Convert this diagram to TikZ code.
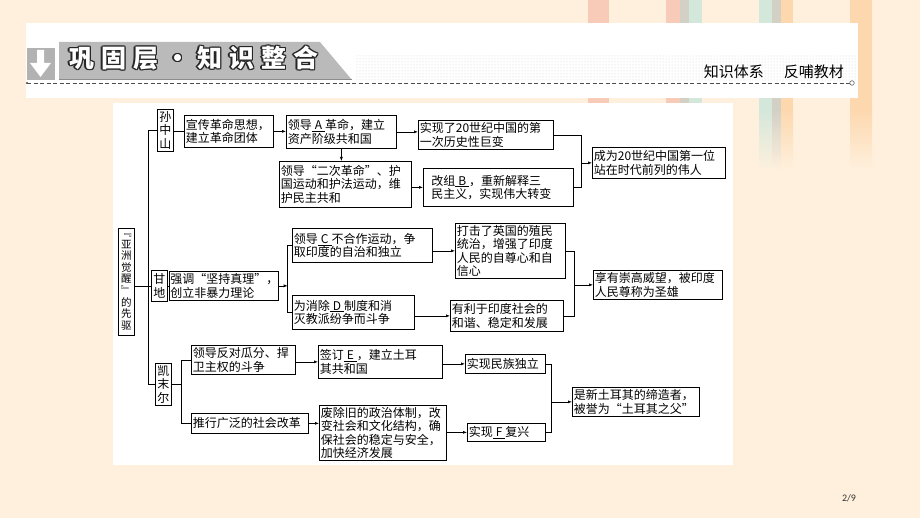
\documentclass[tikz,border=0pt]{standalone}
\usepackage{fontspec}
\usepackage{xcolor}
\usetikzlibrary{arrows.meta, positioning, patterns}
\newfontfamily\cjk{Noto Sans CJK SC}
\newfontfamily\numfont{Carlito}
\definecolor{cream}{HTML}{FEF0DD}
\definecolor{salmon}{HTML}{F8CBB8}
\definecolor{stone}{HTML}{D3D0C6}
\definecolor{mint}{HTML}{D4E7DB}
\definecolor{apricot}{HTML}{FDD8AF}

\begin{document}
\begin{tikzpicture}[x=1pt, y=-1pt,
    box/.style={draw, line width=0.7pt, fill=white, anchor=north west, align=left,
        inner xsep=1.5pt, inner ysep=1pt, font=\cjk\fontsize{12}{13.5}\selectfont},
    vbox/.style={box, align=center, text width=12pt, inner xsep=2pt},
    arr/.style={line width=0.6pt, -{Latex[length=4pt, width=3pt]}},
    link/.style={line width=0.6pt},
    stripe/.style={fill=#1},
    titletxt/.style={anchor=west, inner sep=0pt, font=\cjk\bfseries\fontsize{25}{25}\selectfont}]

    \useasboundingbox (0,0) rectangle (920,518);
    \fill[cream] (0,0) rectangle (920,518);

    % stripes at the top
    \foreach \xa/\xb/\c in {588/609/salmon, 666/680/salmon, 680/689/stone, 689/702/mint,
                            759/772/mint, 772/781/stone, 781/793/apricot, 850/872/apricot}{
        \fill[\c] (\xa,0) rectangle (\xb,110);
        \shade[top color=\c, bottom color=cream] (\xa,110) rectangle (\xb,170);
    }

    % header
    \fill[white] (26,23) rectangle (858,98);
    \fill[pattern=dots, pattern color=black!18] (355,55) rectangle (856,82);
    \fill[black!30] (27,48) rectangle (55,80);
    \fill[white] (37,50) -- (44,50) -- (44,63) -- (51,63) -- (40.5,77) -- (30,63) -- (37,63) -- cycle;
    \fill[black!27] (59,42) -- (320,42) -- (352,80) -- (59,80) -- cycle;
    \draw[black!45, line width=1pt] (59,80) -- (352,80);
    \foreach \a in {0,45,...,315}
        \node[titletxt, text=black!85] at ([shift={(\a:1.3)}]69,58)
            {巩\hspace{7pt}固\hspace{7pt}层\hspace{7pt}・\hspace{7pt}知\hspace{7pt}识\hspace{7pt}整\hspace{7pt}合};
    \node[titletxt, text=white] (title) at (69,58)
        {巩\hspace{7pt}固\hspace{7pt}层\hspace{7pt}・\hspace{7pt}知\hspace{7pt}识\hspace{7pt}整\hspace{7pt}合};
    \node[anchor=east, inner sep=0pt, font=\cjk\fontsize{15}{15}\selectfont] (sub) at (844,72)
        {知识体系\hspace{20pt}反哺教材};
    \coordinate (hl) at (27,83);
    \coordinate (hr) at (849.5,83);
    \draw[black!70, line width=0.6pt, dash pattern=on 4pt off 2.5pt] (hl) -- (hr);
    \fill[black!70] (hl) circle (1.2);
    \draw[black!70, fill=white, line width=0.5pt] (852,83) circle (2.3);

    % diagram
    \fill[white] (113,103) rectangle (733,465);

    \node[vbox, minimum height=42pt] (sun) at (157,109) {孙\\中\\山};
    \node[box, text width=86pt, minimum height=32pt] (xc) at (184,115) {宣传革命思想，\\建立革命团体};
    \node[box, text width=107pt, minimum height=33pt] (lda) at (286,115)
        {领导\underline{\hspace{3pt}A\hspace{3pt}}革命，建立\\资产阶级共和国};
    \node[box, text width=132pt, minimum height=29pt] (sx20) at (418,120) {实现了20世纪中国的第\\一次历史性巨变};
    \node[box, text width=129pt, minimum height=46pt] (ec) at (279,161)
        {领导“二次革命”、护\\国运动和护法运动，维\\护民主共和};
    \node[box, text width=134pt, inner xsep=8pt, minimum height=38pt] (gz) at (423,168)
        {改组\underline{\hspace{3pt}B\hspace{3pt}}，重新解释三\\民主义，实现伟大转变};
    \node[box, text width=130pt, minimum height=31pt] (cw) at (592,147) {成为20世纪中国第一位\\站在时代前列的伟人};

    \node[vbox, minimum height=107pt, font=\cjk\fontsize{10.5}{11.6}\selectfont] (yz) at (118,228)
        {﹃\\亚\\洲\\觉\\醒\\﹄\\的\\先\\驱};
    \node[vbox, minimum height=31pt] (gd) at (151,270) {甘\\地};
    \node[box, text width=107pt, inner xsep=1pt, minimum height=29pt] (qd) at (169,271)
        {强调“坚持真理”，\\创立非暴力理论};
    \node[box, text width=137pt, minimum height=34pt] (lc) at (292,228)
        {领导\underline{\hspace{3pt}C\hspace{3pt}}不合作运动，争\\取印度的自治和独立};
    \node[box, text width=119pt, minimum height=34pt] (dz) at (292,295)
        {为消除\underline{\hspace{3pt}D\hspace{3pt}}制度和消\\灭教派纷争而斗争};
    \node[box, text width=107pt, minimum height=55pt] (dj) at (455,223)
        {打击了英国的殖民\\统治，增强了印度\\人民的自尊心和自\\信心};
    \node[box, text width=110pt, minimum height=31pt] (yl) at (450,300) {有利于印度社会的\\和谐、稳定和发展};
    \node[box, text width=126pt, minimum height=29pt] (xy) at (593,270) {享有崇高威望，被印度\\人民尊称为圣雄};

    \node[vbox, minimum height=42pt] (kml) at (155,363) {凯\\末\\尔};
    \node[box, text width=101pt, minimum height=29pt] (ld2) at (191,345) {领导反对瓜分、捍\\卫主权的斗争};
    \node[box, text width=114pt, minimum height=20pt] (tx) at (191,413) {推行广泛的社会改革};
    \node[box, text width=121pt, minimum height=33pt] (qd2) at (318,345)
        {签订\underline{\hspace{3pt}E\hspace{3pt}}，建立土耳\\其共和国};
    \node[box, text width=124pt, minimum height=55pt] (fc) at (319,405)
        {废除旧的政治体制，改\\变社会和文化结构，确\\保社会的稳定与安全，\\加快经济发展};
    \node[box, text width=77pt, minimum height=19pt] (mz) at (465,354) {实现民族独立};
    \node[box, text width=75pt, minimum height=18pt] (fx) at (467,423)
        {实现\underline{\hspace{3pt}F\hspace{3pt}}复兴};
    \node[box, text width=124pt, minimum height=29pt] (sx) at (572,387)
        {是新土耳其的缔造者，\\被誉为“土耳其之父”};

    \path (sun.west) ++(-9,0) coordinate (ttop);
    \path (kml.west) ++(-7,0) coordinate (tbot);
    \path (cw.west) ++(-11,0) coordinate (m1);
    \path (qd.east) ++(9,0) coordinate (f2);
    \path (xy.west) ++(-19,0) coordinate (m2);
    \path (kml.east) ++(10,0) coordinate (f3);
    \path (sx.west) ++(-21,0) coordinate (m3);

    \draw[link] (sun.west) -- (ttop) -- (tbot) -- (kml.west);
    \draw[link] (yz.east |- gd.west) -- (gd.west);

    \draw[link] (sun.east |- xc.west) -- (xc.west);
    \draw[arr] (xc.east) -- (xc.east -| lda.west);
    \draw[arr] (lda.east) -- (lda.east -| sx20.west);
    \draw[arr] (lda.south) -- (lda.south |- ec.north);
    \draw[arr] (ec.east |- gz.west) -- (gz.west);
    \draw[link] (sx20.east) -| (m1);
    \draw[link] (gz.east) -| (m1);
    \draw[arr] (m1) -- (cw.west);

    \draw[link] (gd.east |- qd.west) -- (qd.west);
    \draw[arr] (qd.east) -- (f2);
    \draw[link] (lc.west) -| (f2) |- (dz.west);
    \draw[arr] (lc.east |- dj.west) -- (dj.west);
    \draw[arr] (dz.east |- yl.west) -- (yl.west);
    \draw[link] (dj.east) -| (m2);
    \draw[link] (yl.east) -| (m2);
    \draw[arr] (m2) -- (xy.west);

    \draw[link] (kml.east) -- (f3);
    \draw[link] (ld2.west) -| (f3) |- (tx.west);
    \draw[arr] (ld2.east |- qd2.west) -- (qd2.west);
    \draw[arr] (tx.east) -- (tx.east -| fc.west);
    \draw[arr] (qd2.east |- mz.west) -- (mz.west);
    \draw[arr] (fc.east |- fx.west) -- (fx.west);
    \draw[link] (mz.east) -| (m3);
    \draw[link] (fx.east) -| (m3);
    \draw[arr] (m3) -- (sx.west);

    \node[font=\numfont\fontsize{10}{12}\selectfont, text=black!80, inner sep=0pt] (pg) at (849,498) {2/9};
\end{tikzpicture}
\end{document}
